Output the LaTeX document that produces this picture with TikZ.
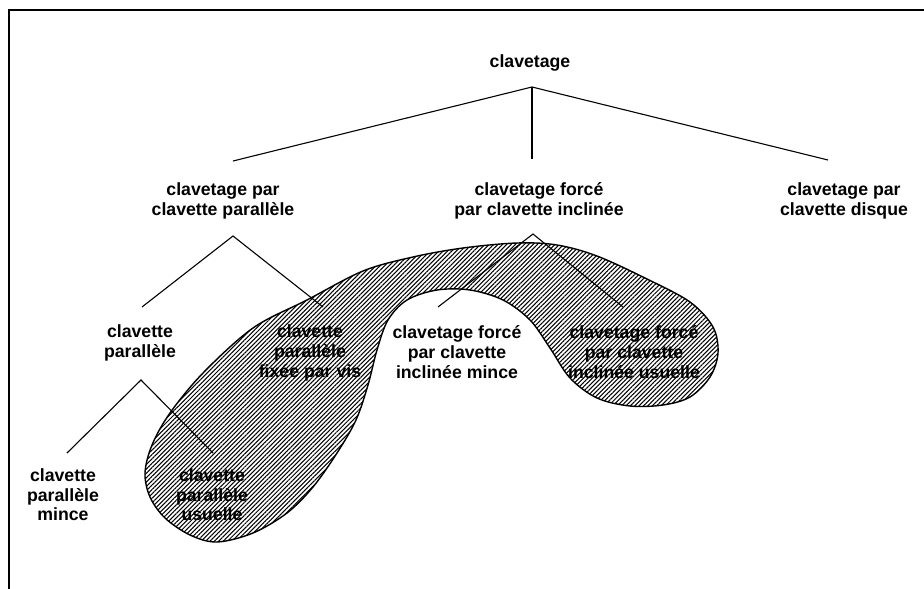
\documentclass[tikz,border=0pt]{standalone}
\usepackage{fontspec}
\setmainfont{Liberation Sans}
\usetikzlibrary{patterns.meta}
\begin{document}
\begin{tikzpicture}[x=1pt,y=-1pt,
  lbl/.style={align=center,inner sep=0pt,font=\fontsize{17.7}{19.6}\selectfont\bfseries},
  conn/.style={line width=1.1pt},
  frameline/.style={line width=2pt},
  blob/.style={line width=1.4pt,pattern={Lines[angle=45,distance=3.1pt,line width=1.05pt]}}]
\useasboundingbox (0,0) rectangle (924,589);
% frame
\coordinate (fTL) at (9,10);
\coordinate (fTR) at (924,10);
\coordinate (fBL) at (9,589);
\draw[frameline] (fTR) -- (fTL) -- (fBL);
% hatched region
\draw[blob] plot[smooth cycle,tension=0.55] coordinates {
 (145,473) (152,445) (170,413) (203,373) (253,328) (307,300) (363,271)
 (413,257) (463,248) (517,243) (557,245) (597,256) (647,279) (690,302)
 (713,327) (718,353) (710,377) (690,397) (663,405) (630,406) (597,398)
 (570,378) (550,348) (530,320) (503,300) (470,290) (437,290) (407,300)
 (388,320) (377,350) (368,385) (356,420) (337,453) (313,487) (287,513)
 (253,533) (217,542) (190,535) (165,518) (150,497)};
% nodes
\node[lbl] (root) at (530,63) {clavetage};
\node[lbl] (pp) at (223,201) {clavetage par\\clavette parallèle};
\node[lbl] (fi) at (539,201) {clavetage forcé\\par clavette inclinée};
\node[lbl] (di) at (844,201) {clavetage par\\clavette disque};
\node[lbl] (cp) at (140,343) {clavette\\parallèle};
\node[lbl] (cv) at (310,353) {clavette\\parallèle\\fixée par vis};
\node[lbl] (fm) at (457,352) {clavetage forcé\\par clavette\\inclinée mince};
\node[lbl] (fu) at (634,352) {clavetage forcé\\par clavette\\inclinée usuelle};
\node[lbl] (cm) at (63,495) {clavette\\parallèle\\mince};
\node[lbl] (cu) at (212,495) {clavette\\parallèle\\usuelle};
% connector end points
\coordinate (rootA) at (532,87);
\coordinate (ppT) at (233,161);
\coordinate (fiT) at (532,159);
\coordinate (diT) at (828,160);
\coordinate (ppA) at (233,236);
\coordinate (cpT) at (142,307);
\coordinate (cvT) at (323,307);
\coordinate (fiA) at (533,234);
\coordinate (fmT) at (438,307);
\coordinate (fuT) at (623,307);
\coordinate (cpA) at (141,380);
\coordinate (cmT) at (67,453);
\coordinate (cuT) at (213,453);
% connectors
\draw[conn] (ppT) -- (rootA) -- (diT);
\draw[conn] (rootA) -- (fiT);
\draw[conn] (cpT) -- (ppA) -- (cvT);
\draw[conn] (fmT) -- (fiA) -- (fuT);
\draw[conn] (cmT) -- (cpA) -- (cuT);
\end{tikzpicture}
\end{document}
